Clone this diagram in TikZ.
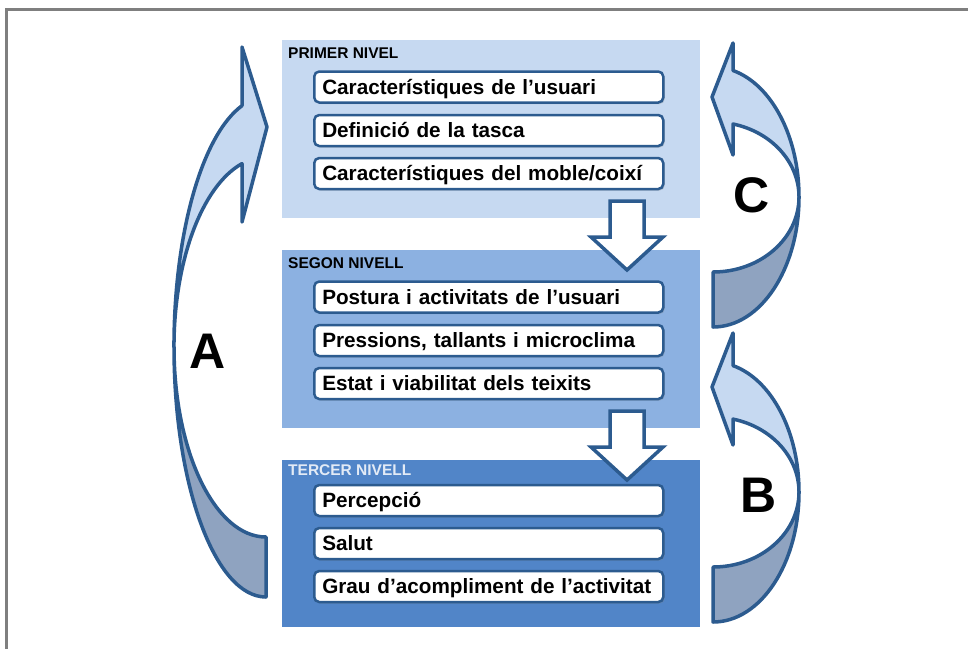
\documentclass[tikz,border=0pt]{standalone}
\usepackage{fontspec}
\setmainfont{Liberation Sans}
\usetikzlibrary{shadows}
\definecolor{pone}{HTML}{C6D9F1}
\definecolor{ptwo}{HTML}{8CB1E1}
\definecolor{pthree}{HTML}{5185C8}
\definecolor{edge}{HTML}{2C5B8F}
\definecolor{darkpart}{HTML}{8FA3C0}
\definecolor{framegray}{HTML}{7F7F7F}
\definecolor{lighttitle}{HTML}{E3EBF6}
\begin{document}
\begin{tikzpicture}[x=1pt,y=1pt,
  panel/.style={rectangle, inner sep=0pt, minimum width=418pt},
  item/.style={rectangle, rounded corners=5pt, draw=edge, line width=2.5pt, fill=white,
    anchor=west, minimum height=31pt, text width=333pt, inner xsep=8pt, inner ysep=0pt,
    align=left, text height=18pt, text depth=3.7pt,
    font=\fontsize{20.7}{24}\selectfont\bfseries,
    drop shadow={shadow xshift=1.5pt, shadow yshift=-1.5pt, opacity=0.3}},
  leveltitle/.style={anchor=base west, inner sep=0pt, font=\fontsize{15.5}{18}\selectfont\bfseries},
  bigletter/.style={inner sep=0pt, font=\fontsize{50}{60}\selectfont\bfseries},
  blockarrow/.style={draw=edge, line width=3.5pt, line join=miter, fill=white},
  curvearrow/.style={draw=edge, line width=3.5pt, line join=round}
]
\useasboundingbox (0,0) rectangle (968,-649);

% panels
\node[panel, fill=pone, minimum height=178pt] (p1) at (491,-129) {};
\node[panel, fill=ptwo, minimum height=178pt] (p2) at (491,-339) {};
\node[panel, fill=pthree, minimum height=167pt] (p3) at (491,-543.5) {};

% titles
\node[leveltitle] (t1) at (288,-58) {PRIMER NIVEL};
\node[leveltitle] (t2) at (288,-268) {SEGON NIVELL};
\node[leveltitle, text=lighttitle] (t3) at (288,-475) {TERCER NIVELL};

% items
\node[item] (i11) at (313,-87) {\mbox{Característiques de l’usuari}};
\node[item] (i12) at (313,-130.5) {\mbox{Definició de la tasca}};
\node[item] (i13) at (313,-173.5) {\mbox{Característiques del moble/coixí}};
\node[item] (i21) at (313,-297) {\mbox{Postura i activitats de l’usuari}};
\node[item] (i22) at (313,-340.5) {\mbox{Pressions, tallants i microclima}};
\node[item] (i23) at (313,-383.5) {\mbox{Estat i viabilitat dels teixits}};
\node[item] (i31) at (313,-500.5) {\mbox{Percepció}};
\node[item] (i32) at (313,-543.5) {\mbox{Salut}};
\node[item] (i33) at (313,-586.5) {\mbox{Grau d’acompliment de l’activitat}};

% down block arrows
\path[blockarrow] (610,-201) -- (644,-201) -- (644,-237) -- (663,-237) -- (627,-270) -- (591,-237) -- (610,-237) -- cycle;
\path[blockarrow] (610,-411) -- (644,-411) -- (644,-447) -- (663,-447) -- (627,-480) -- (591,-447) -- (610,-447) -- cycle;

% curved arrow A
\path[curvearrow, fill=darkpart] (174,-347) arc[start angle=180, end angle=270, x radius=92pt, y radius=250pt]
  -- (266,-537) arc[start angle=270, end angle=180, x radius=92pt, y radius=190pt] -- cycle;
\path[curvearrow, fill=pone] (242,-47) -- (267,-127) -- (242,-222) -- (242,-163.6)
  arc[start angle=105.1, end angle=180, x radius=92pt, y radius=190pt]
  arc[start angle=180, end angle=105.1, x radius=92pt, y radius=250pt] -- cycle;

% curved arrow C
\path[curvearrow, fill=darkpart] (799,-197) arc[start angle=0, end angle=-90, x radius=86pt, y radius=130pt]
  -- (713,-272) arc[start angle=-90, end angle=0, x radius=86pt, y radius=75pt] -- cycle;
\path[curvearrow, fill=pone] (733,-43) -- (712,-97) -- (733,-155) -- (733,-124)
  arc[start angle=76.55, end angle=0, x radius=86pt, y radius=75pt]
  arc[start angle=0, end angle=76.55, x radius=86pt, y radius=130pt] -- cycle;

% curved arrow B
\path[curvearrow, fill=darkpart] (799,-492) arc[start angle=0, end angle=-90, x radius=86pt, y radius=130pt]
  -- (713,-567) arc[start angle=-90, end angle=0, x radius=86pt, y radius=75pt] -- cycle;
\path[curvearrow, fill=pone] (733,-333) -- (712,-387) -- (733,-445) -- (733,-419.1)
  arc[start angle=76.55, end angle=0, x radius=86pt, y radius=75pt]
  arc[start angle=0, end angle=76.55, x radius=86pt, y radius=130pt] -- cycle;

% letters
\node[bigletter] (la) at (207.5,-351.5) {A};
\node[bigletter] (lb) at (759,-495.5) {B};
\node[bigletter] (lc) at (752,-195) {C};

% frame
\draw[framegray, line width=3pt] (968,-9) -- (6.7,-9) -- (6.7,-649);
\end{tikzpicture}
\end{document}
